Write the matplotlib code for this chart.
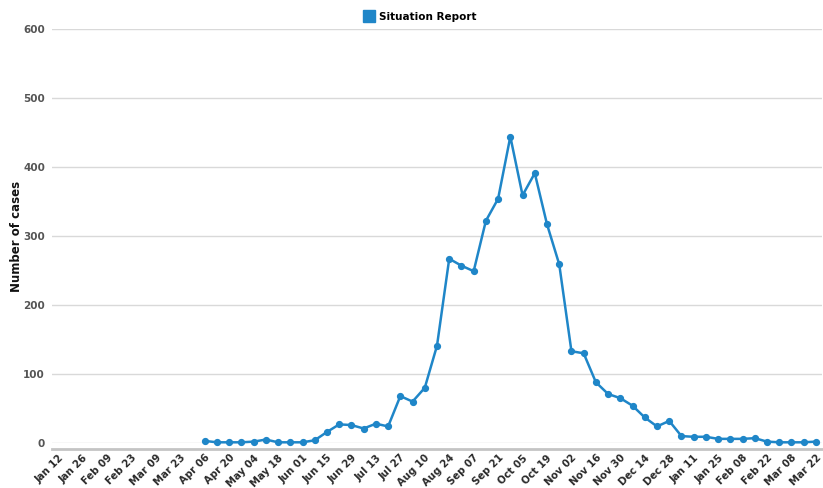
import pandas as pd
import matplotlib
matplotlib.use("Agg")
import matplotlib.pyplot as plt
from matplotlib.lines import Line2D

# weekly categories, Jan 12 2014 .. Mar 22 2015
weeks = [d.strftime("%b %d") for d in pd.date_range("2014-01-12", periods=63, freq="7D")]

# cases reported, starting at week of Apr 06
first_week = "Apr 06"
cases = [3, 1, 1, 1, 2, 5, 1, 1, 1, 4,
         16, 27, 26, 21, 28, 24, 68, 60, 80, 141,
         267, 257, 249, 322, 354, 444, 359, 391, 317, 259,
         133, 130, 88, 71, 65, 54, 37, 24, 32, 10,
         9, 9, 6, 6, 6, 7, 2, 1, 1, 1, 2]

y_ticks = [0, 100, 200, 300, 400, 500, 600]
blue = "#1f86c8"
grid_col = "#d9d9d9"
lab_col = "#555555"

plt.rcParams['font.family'] = ['DejaVu Sans']

fig = plt.figure(figsize=(8.23, 4.88), dpi=100)
W, H = 823, 488
ax = fig.add_axes([52 / W, (H - 443) / H, (822 - 52) / W, (443 - 29) / H])

# spine position first: it resets the tick labels
for s in ["top", "right", "left"]:
    ax.spines[s].set_visible(False)
ax.spines["bottom"].set_color("#c4c4c4")
ax.spines["bottom"].set_linewidth(2)
ax.spines["bottom"].set_position(("outward", 4))

start = weeks.index(first_week)
xs = list(range(start, start + len(cases)))
ax.plot(xs, cases, color=blue, lw=1.8, marker="o", ms=4.2, clip_on=False, zorder=3)

ax.set_xlim(-0.5, len(weeks) - 0.5)
ax.set_ylim(0, 600)

ax.set_yticks(y_ticks)
ax.set_yticklabels([str(v) for v in y_ticks], fontsize=7.5, fontweight="bold", color=lab_col)
ax.yaxis.grid(True, color=grid_col, lw=1)
ax.set_axisbelow(True)
ax.tick_params(axis="y", length=0, pad=5)

ax.set_xticks(range(0, len(weeks), 2))
ax.set_xticklabels(weeks[::2], rotation=45, ha="right", rotation_mode="anchor",
                   fontsize=7.3, fontweight="bold", color="#2a2a2a")
ax.tick_params(axis="x", length=0, pad=3)

fig.text(17 / W, 1 - 236 / H, "Number of cases", rotation=90, ha="center", va="center",
         fontsize=8.5, fontweight="bold", color="#111111")

handle = Line2D([], [], color=blue, marker="s", ls="none", ms=9)
fig.legend([handle], ["Situation Report"], loc="center", bbox_to_anchor=(420 / W, 1 - 17 / H),
           frameon=False, prop={"size": 7.5, "weight": "bold"}, handletextpad=0.4,
           handlelength=1)

fig.savefig("out.png", dpi=100)
